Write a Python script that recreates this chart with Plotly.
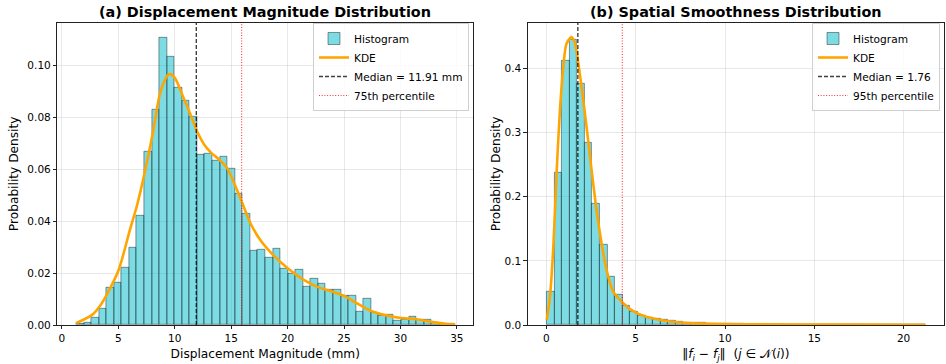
import plotly.graph_objects as go

# ---------------- data ----------------
left_bin_start = 1.27
left_bin_width = 0.670
left_density = [
    0.0005, 0.0010, 0.0027, 0.0063, 0.0143, 0.0163, 0.0221, 0.0298, 0.0422, 0.0667,
    0.0830, 0.1108, 0.1033, 0.0915, 0.0863, 0.0802, 0.0657, 0.0661, 0.0631, 0.0648,
    0.0603, 0.0506, 0.0427, 0.0288, 0.0291, 0.0260, 0.0294, 0.0216, 0.0198, 0.0213,
    0.0149, 0.0179, 0.0160, 0.0136, 0.0136, 0.0113, 0.0113, 0.0053, 0.0102, 0.0048,
    0.0034, 0.0040, 0.0018, 0.0022, 0.0032, 0.0022, 0.0021, 0.0008, 0.0006, 0.0005,
]
left_kde_x = [1.24, 2.71, 3.40, 4.01, 5.01, 6.02, 6.70, 7.38, 8.05, 8.70, 9.38, 9.62, 10.03,
              10.68, 11.35, 12.00, 12.65, 13.30, 14.00, 14.66, 15.34, 16.00, 16.73,
              17.60, 18.73, 20.06, 21.40, 22.70, 24.07, 25.07, 26.08, 27.40, 28.76,
              30.09, 31.40, 32.74, 34.07, 34.87]
left_kde_y = [0.0007, 0.0040, 0.0075, 0.0120, 0.0210, 0.0365, 0.0468, 0.0596, 0.0737, 0.0892, 0.0962,
              0.0966, 0.0950, 0.0885, 0.0815, 0.0744, 0.0692, 0.0660, 0.0635, 0.0603, 0.0538,
              0.0468, 0.0390, 0.0326, 0.0269, 0.0217, 0.0175, 0.0146, 0.0127, 0.0111, 0.0085,
              0.0054, 0.0037, 0.0027, 0.0022, 0.0012, 0.0004, 0.0002]
left_median = 11.91
left_pct = 15.93

right_bin_start = 0.02
right_bin_width = 0.4246
right_density = [
    0.0512, 0.2380, 0.4115, 0.4450, 0.3770, 0.2850, 0.1890, 0.1260, 0.0746, 0.0466,
    0.0305, 0.0205, 0.0148, 0.0117, 0.0094, 0.0075, 0.0063, 0.0052, 0.0042, 0.0036,
    0.0030, 0.0026, 0.0022, 0.0019, 0.0016, 0.0014, 0.0012, 0.0010, 0.0009, 0.0008,
    0.0007, 0.0006, 0.0006, 0.0005, 0.0005, 0.0004, 0.0004, 0.0004, 0.0003, 0.0003,
    0.0003, 0.0003, 0.0002, 0.0002, 0.0002, 0.0002, 0.0002, 0.0001, 0.0001, 0.0001,
]
right_kde_x = [0.02, 0.20, 0.39, 0.58, 0.76, 0.95, 1.13, 1.41, 1.60, 1.79, 1.97, 2.25,
               2.53, 2.81, 3.09, 3.37, 3.74, 4.21, 4.68, 5.42, 6.54, 7.48, 10.0, 15.0,
               20.0, 21.2]
right_kde_y = [0.008, 0.044, 0.122, 0.242, 0.335, 0.403, 0.439, 0.449, 0.439, 0.408,
               0.371, 0.309, 0.242, 0.179, 0.1275, 0.086, 0.052, 0.0366, 0.0248, 0.0143,
               0.007, 0.004, 0.0015, 0.0007, 0.0005, 0.0005]
right_median = 1.76
right_pct = 4.25

left_ymax = 0.1164
right_ymax = 0.4715

# ---------------- figure ----------------
FONT = "DejaVu Sans"
fig = go.Figure()

def add_panel(xa, ya, leg, start, width, dens, kx, ky, med, pct, ymax, med_name, pct_name):
    centers = [start + (i + 0.5) * width for i in range(len(dens))]
    fig.add_trace(go.Bar(
        x=centers, y=dens, width=width, name="Histogram",
        marker=dict(color="rgba(23,190,207,0.56)",
                    line=dict(color="rgba(0,0,0,0.5)", width=0.8)),
        xaxis=xa, yaxis=ya, legend=leg, hoverinfo="skip"))
    fig.add_trace(go.Scatter(
        x=kx, y=ky, mode="lines", name="KDE",
        line=dict(color="#FFA500", width=2.6, shape="spline", smoothing=0.8),
        xaxis=xa, yaxis=ya, legend=leg))
    fig.add_trace(go.Scatter(
        x=[med, med], y=[0, ymax], mode="lines", name=med_name,
        line=dict(color="rgba(0,0,0,0.75)", width=1.4, dash="4px,2px"),
        xaxis=xa, yaxis=ya, legend=leg))
    fig.add_trace(go.Scatter(
        x=[pct, pct], y=[0, ymax], mode="lines", name=pct_name,
        line=dict(color="rgba(255,0,0,0.8)", width=1.1, dash="1px,1.7px"),
        xaxis=xa, yaxis=ya, legend=leg))

add_panel("x", "y", "legend", left_bin_start, left_bin_width, left_density,
          left_kde_x, left_kde_y, left_median, left_pct, left_ymax,
          "Median = 11.91 mm", "75th percentile")
add_panel("x2", "y2", "legend2", right_bin_start, right_bin_width, right_density,
          right_kde_x, right_kde_y, right_median, right_pct, right_ymax,
          "Median = 1.76", "95th percentile")

axis_style = dict(
    showline=True, mirror=True, linecolor="#222", linewidth=0.9,
    ticks="outside", ticklen=3.5, tickwidth=0.9, tickcolor="#222",
    showgrid=True, gridcolor="rgba(190,190,190,0.35)", gridwidth=0.8,
    zeroline=False, automargin=False,
    tickfont=dict(family=FONT, size=10.5, color="#000"),
)

W, H = 946, 364
lx0, lx1 = 57.3 / W, 473.3 / W
rx0, rx1 = 527.8 / W, 944.0 / W
y0, y1 = (H - 325.0) / H, (H - 22.7) / H

label_font = dict(family=FONT, size=12.2, color="#000")

legend_common = dict(
    xanchor="right", yanchor="top",
    bgcolor="rgba(255,255,255,0.8)", bordercolor="#d0d0d0", borderwidth=1,
    font=dict(family=FONT, size=10.6, color="#000"), itemwidth=30, tracegroupgap=0,
)

fig.update_layout(
    width=W, height=H,
    margin=dict(l=0, r=0, t=0, b=0, autoexpand=False),
    paper_bgcolor="white", plot_bgcolor="white",
    bargap=0, barmode="overlay",
    font=dict(family=FONT, color="#000"),
    xaxis=dict(domain=[lx0, lx1], range=[-0.41, 36.46], anchor="y",
               tickvals=[0, 5, 10, 15, 20, 25, 30, 35],
               title=dict(text="Displacement Magnitude (mm)", font=label_font, standoff=6),
               **axis_style),
    yaxis=dict(domain=[y0, y1], range=[0, left_ymax], anchor="x",
               tickvals=[0, 0.02, 0.04, 0.06, 0.08, 0.10], tickformat=".2f",
               title=dict(text="Probability Density", font=label_font, standoff=6),
               **axis_style),
    xaxis2=dict(domain=[rx0, rx1], range=[-1.04, 22.26], anchor="y2",
                tickvals=[0, 5, 10, 15, 20],
                title=dict(text="‖<i>f</i><sub><i>i</i></sub> − <i>f</i><sub><i>j</i></sub>‖  (<i>j</i> ∈ 𝒩(<i>i</i>))",
                           font=label_font, standoff=6),
                **axis_style),
    yaxis2=dict(domain=[y0, y1], range=[0, right_ymax], anchor="x2",
                tickvals=[0, 0.1, 0.2, 0.3, 0.4], tickformat=".1f",
                title=dict(text="Probability Density", font=label_font, standoff=1),
                **axis_style),
    legend=dict(x=469 / W, y=(H - 23) / H, **legend_common),
    legend2=dict(x=940 / W, y=(H - 23) / H, **legend_common),
    annotations=[
        dict(text="<b>(a) Displacement Magnitude Distribution</b>", x=(lx0 + lx1) / 2,
             y=(H - 12) / H, xref="paper", yref="paper", showarrow=False,
             xanchor="center", yanchor="middle", font=dict(family=FONT, size=14.4, color="#000")),
        dict(text="<b>(b) Spatial Smoothness Distribution</b>", x=(rx0 + rx1) / 2,
             y=(H - 12) / H, xref="paper", yref="paper", showarrow=False,
             xanchor="center", yanchor="middle", font=dict(family=FONT, size=14.4, color="#000")),
    ],
)

fig.write_html("out.html", config={"displayModeBar": False},
               post_script="document.body.style.margin='0';document.body.style.overflow='hidden';")
